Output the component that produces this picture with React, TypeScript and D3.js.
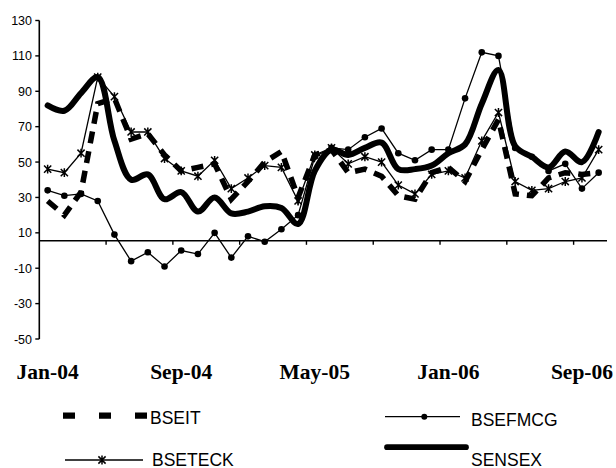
import React from "react";
import * as d3 from "d3";

// Monthly categories, Jan-04 .. Oct-06
const months = [
  "Jan-04", "Feb-04", "Mar-04", "Apr-04", "May-04", "Jun-04", "Jul-04", "Aug-04",
  "Sep-04", "Oct-04", "Nov-04", "Dec-04", "Jan-05", "Feb-05", "Mar-05", "Apr-05",
  "May-05", "Jun-05", "Jul-05", "Aug-05", "Sep-05", "Oct-05", "Nov-05", "Dec-05",
  "Jan-06", "Feb-06", "Mar-06", "Apr-06", "May-06", "Jun-06", "Jul-06", "Aug-06",
  "Sep-06", "Oct-06",
];

const tickLabelMonths = ["Jan-04", "Sep-04", "May-05", "Jan-06", "Sep-06"];
const yTicks = [-50, -30, -10, 10, 30, 50, 70, 90, 110, 130];

const bseit = [
  28, 20, 33, 83, 86, 63, 66, 54, 45, 47, 49, 29, 39, 50, 56, 30, 54,
  57, 44, 46, 42, 31, 29, 44, 47, 39, 57, 74, 32, 31, 41, 44, 43, 44,
];
const bsefmcg = [
  34, 31, 32, 28, 9, -6, -1, -9, 0, -2, 10, -4, 8, 5, 12, 20, 53,
  58, 57, 64, 69, 55, 51, 57, 57, 86, 112, 110, 58, 53, 45, 49, 35, 44,
];
const bseteck = [
  46, 44, 55, 98, 87, 67, 67, 52, 45, 42, 51, 35, 41, 48, 47, 28, 54,
  58, 49, 53, 50, 37, 32, 43, 45, 41, 62, 78, 39, 34, 35, 39, 41, 57,
];
const sensex = [
  82, 79, 89, 98, 62, 40, 43, 29, 33, 22, 30, 21, 22, 25, 24, 15, 45,
  57, 54, 58, 61, 46, 46, 48, 55, 60, 83, 102, 59, 53, 47, 56, 50, 67,
];

// value where the category axis crosses the value axis
const axisCross = 5.5;

const W = 616;
const H = 468;
const plot = { left: 39.3, right: 607, top: 20.5, bottom: 339 };

const starPath = "M-3.6,-3.6L3.6,3.6M-3.6,3.6L3.6,-3.6M0,-4.4L0,4.4";

export default function App() {
  const x = d3.scaleBand<string>().domain(months).range([plot.left, plot.right]).padding(0);
  const y = d3.scaleLinear().domain([-50, 130]).range([plot.bottom, plot.top]);
  const cx = (m: string) => (x(m) as number) + x.bandwidth() / 2;

  const straight = d3
    .line<number>()
    .x((_, i) => cx(months[i]))
    .y((d) => y(d));
  const smooth = d3
    .line<number>()
    .x((_, i) => cx(months[i]))
    .y((d) => y(d))
    .curve(d3.curveCatmullRom.alpha(0.5));

  const yAxisX = plot.left;
  const xAxisY = y(axisCross);
  const xTickMonths = months.filter((_, i) => i > 0 && i % 4 === 0);

  const sans = "'Liberation Sans', Arial, sans-serif";
  const serif = "'Liberation Serif', 'Times New Roman', serif";

  return (
    <svg
      width={W}
      height={H}
      style={{ position: "absolute", left: 0, top: 0, background: "#fff" }}
    >
      <rect x={0} y={0} width={W} height={H} fill="#fff" />

      {/* value axis */}
      <line x1={yAxisX} x2={yAxisX} y1={plot.top} y2={plot.bottom} stroke="#000" strokeWidth={1.6} />
      {yTicks.map((t) => (
        <g key={t}>
          <line x1={yAxisX - 4} x2={yAxisX} y1={y(t)} y2={y(t)} stroke="#000" strokeWidth={1.4} />
          <text
            x={32}
            y={y(t)}
            dy="0.36em"
            textAnchor="end"
            fontFamily={sans}
            fontSize={12.5}
            fill="#000"
          >
            {t}
          </text>
        </g>
      ))}

      {/* category axis */}
      <line x1={yAxisX} x2={plot.right} y1={xAxisY} y2={xAxisY} stroke="#000" strokeWidth={1.6} />
      {xTickMonths.map((m) => (
        <line
          key={m}
          x1={x(m) as number}
          x2={x(m) as number}
          y1={xAxisY}
          y2={xAxisY + 4}
          stroke="#000"
          strokeWidth={1.4}
        />
      ))}
      {tickLabelMonths.map((m) => (
        <text
          key={m}
          x={cx(m)}
          y={379}
          textAnchor="middle"
          fontFamily={serif}
          fontWeight="bold"
          fontSize={21.5}
          fill="#000"
        >
          {m}
        </text>
      ))}

      {/* series */}
      <path
        d={straight(bseit) as string}
        fill="none"
        stroke="#000"
        strokeWidth={5.5}
        strokeDasharray="12,8"
      />
      <path d={straight(bsefmcg) as string} fill="none" stroke="#000" strokeWidth={1.3} />
      {bsefmcg.map((v, i) => (
        <circle key={i} cx={cx(months[i])} cy={y(v)} r={3.3} fill="#000" />
      ))}
      <path d={straight(bseteck) as string} fill="none" stroke="#000" strokeWidth={1.3} />
      {bseteck.map((v, i) => (
        <path
          key={i}
          d={starPath}
          transform={`translate(${cx(months[i])},${y(v)})`}
          stroke="#000"
          strokeWidth={1.5}
          fill="none"
        />
      ))}
      <path
        d={smooth(sensex) as string}
        fill="none"
        stroke="#000"
        strokeWidth={6}
        strokeLinejoin="round"
        strokeLinecap="round"
      />

      {/* legend */}
      <line x1={63} x2={148} y1={415.7} y2={415.7} stroke="#000" strokeWidth={6.3} strokeDasharray="12,24" />
      <text x={150} y={424} fontFamily={sans} fontSize={17.5} fill="#000">BSEIT</text>

      <line x1={65} x2={143} y1={460} y2={460} stroke="#000" strokeWidth={1.3} />
      <path d={starPath} transform="translate(102,460)" stroke="#000" strokeWidth={1.5} fill="none" />
      <text x={152} y={465.5} fontFamily={sans} fontSize={17.5} fill="#000">BSETECK</text>

      <line x1={385} x2={460} y1={416.7} y2={416.7} stroke="#000" strokeWidth={1.3} />
      <circle cx={424.3} cy={416.7} r={3} fill="#000" />
      <text x={471} y={426} fontFamily={sans} fontSize={17.5} fill="#000">BSEFMCG</text>

      <line x1={387} x2={466} y1={447.2} y2={447.2} stroke="#000" strokeWidth={5.7} strokeLinecap="round" />
      <text x={471} y={465.5} fontFamily={sans} fontSize={17.5} fill="#000">SENSEX</text>
    </svg>
  );
}
